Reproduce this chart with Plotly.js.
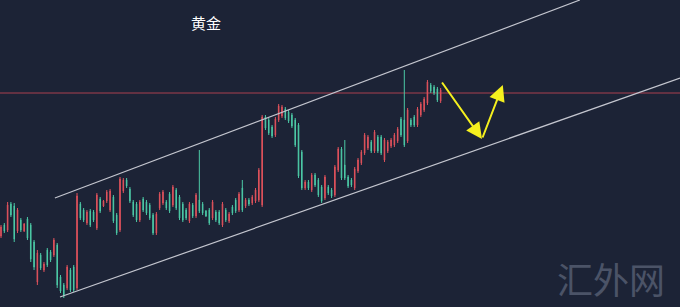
<!DOCTYPE html>
<html>
<head>
<meta charset="utf-8">
<script src="https://cdn.plot.ly/plotly-3.0.1.min.js"></script>
<style>
html,body{margin:0;padding:0;background:#1c2336;}
#chart{width:680px;height:307px;}
</style>
</head>
<body>
<div id="chart"></div>
<script>
// Gold (黄金) candles
const openP = [1764,1775,1770,1796,1794,1769,1780,1769,1781,1775,1758,1718,1745,1730,1750,1748,1745,1755,1723,1715,1712,1730,1733,1712,
1796,1790,1777,1789,1788,1772,1801,1794,1799,1790,1803,1785,1770,1809,1820,1811,1798,1796,1780,1801,1798,1795,1785,
1767,1792,1797,1798,1806,1795,1810,1803,1796,1790,1779,1795,1784,1800,1796,1789,1790,1782,1788,1788,1775,1790,1779,
1793,1800,1790,1812,1794,1800,1797,1799,1800,1795,1883,1880,1873,1865,1880,1884,1891,1888,1885,1880,1875,1848,
1812,1818,1810,1825,1820,1813,1802,1813,1810,1805,1830,1851,1835,1823,1820,1812,1829,1837,1847,1852,1858,1849,
1863,1863,1840,1849,1854,1855,1859,1881,1880,1859,1880,1883,1875,1885,1890,1897,1915,1913,1911,1899];
const highP = [1775,1777,1798,1798,1797,1792,1782,1777,1783,1777,1760,1750,1747,1738,1752,1750,1762,1757,1725,1717,1735,1732,1735,1807,
1798,1792,1790,1791,1790,1807,1803,1800,1810,1811,1805,1787,1823,1822,1822,1813,1800,1798,1800,1803,1800,1797,1787,
1788,1808,1810,1800,1808,1815,1812,1805,1798,1792,1798,1797,1807,1850,1798,1790,1792,1800,1790,1790,1798,1792,1788,
1795,1802,1808,1820,1802,1802,1805,1812,1832,1885,1885,1882,1875,1883,1896,1895,1893,1890,1887,1882,1877,1850,
1820,1820,1827,1827,1822,1815,1825,1815,1812,1835,1853,1853,1860,1825,1822,1833,1842,1850,1867,1865,1860,1870,
1865,1865,1862,1860,1862,1867,1873,1883,1930,1892,1882,1885,1893,1898,1903,1920,1917,1915,1913,1912];
const lowP = [1762,1767,1768,1783,1758,1767,1768,1768,1760,1738,1730,1715,1730,1728,1733,1738,1743,1712,1707,1702,1710,1708,1708,1710,
1780,1778,1775,1773,1778,1770,1787,1793,1797,1788,1777,1765,1768,1807,1812,1797,1783,1778,1778,1788,1785,1780,1765,
1765,1790,1795,1790,1787,1793,1790,1780,1778,1780,1777,1782,1782,1787,1785,1783,1775,1780,1778,1775,1773,1778,1777,
1785,1787,1788,1788,1792,1794,1795,1797,1798,1793,1870,1865,1862,1863,1878,1882,1880,1877,1872,1853,1822,1810,
1810,1810,1808,1813,1803,1797,1800,1805,1802,1803,1828,1820,1820,1812,1813,1810,1827,1835,1845,1850,1847,1847,
1847,1845,1838,1847,1852,1853,1857,1863,1853,1857,1873,1873,1873,1883,1888,1895,1907,1905,1898,1897];
const closeP = [1773,1769,1795,1785,1761,1790,1770,1776,1762,1741,1733,1747,1732,1736,1735,1740,1760,1715,1709,1704,1733,1710,1710,1804,
1782,1780,1788,1775,1780,1805,1789,1799,1808,1809,1779,1767,1821,1820,1814,1799,1785,1780,1798,1790,1787,1782,1767,
1786,1806,1808,1792,1789,1813,1792,1782,1780,1782,1796,1784,1805,1789,1787,1784,1777,1798,1780,1777,1796,1780,1786,
1787,1789,1806,1790,1800,1796,1803,1810,1830,1883,1872,1867,1864,1881,1894,1893,1882,1879,1874,1855,1824,1812,
1818,1812,1825,1815,1805,1799,1823,1807,1804,1833,1851,1822,1822,1814,1815,1831,1840,1848,1865,1863,1849,1868,
1849,1847,1860,1858,1860,1865,1871,1865,1855,1890,1875,1875,1891,1896,1901,1918,1909,1907,1900,1910];
const idx = openP.map((_, i) => i + 1);

// Drawn guides (price units / candle index)
const upperChannel = {x: [17.3, 176.1], y: [1802, 2000]};
const lowerChannel = {x: [18.85, 206.4], y: [1703, 1922]};
const resistance = 1907;
const arrowDown = {from: [134.1, 1919], to: [146.5, 1861]};
const arrowUp = {from: [146.5, 1861], to: [152.8, 1915]};
const titleText = '黄金';
const watermark = '汇外网';

const RED = '#e0525c';
const TEAL = '#4cc9a6';

const trace = {
  type: 'candlestick',
  x: idx, open: openP, high: highP, low: lowP, close: closeP,
  increasing: {line: {color: RED, width: 1}, fillcolor: RED},
  decreasing: {line: {color: TEAL, width: 1}, fillcolor: TEAL},
  whiskerwidth: 0,
  hoverinfo: 'skip',
  showlegend: false
};

const layout = {
  width: 680, height: 307,
  margin: {l: 0, r: 0, t: 0, b: 0, pad: 0},
  paper_bgcolor: '#1c2336',
  plot_bgcolor: '#1c2336',
  boxgap: 0.75,
  showlegend: false,
  title: {
    text: titleText,
    font: {family: 'Noto Sans CJK SC', size: 15, color: '#ffffff'},
    x: 206 / 680, xanchor: 'center', xref: 'container',
    y: 1 - 24 / 307, yanchor: 'middle', yref: 'container'
  },
  xaxis: {range: [0.6975, 206.4], visible: false, showgrid: false, zeroline: false,
          rangeslider: {visible: false}, fixedrange: true},
  yaxis: {range: [1693, 2000], visible: false, showgrid: false, zeroline: false, fixedrange: true},
  shapes: [
    {type: 'line', xref: 'paper', yref: 'y', x0: 0, x1: 1, y0: resistance, y1: resistance,
     line: {color: '#a9404f', width: 1}, layer: 'below'},
    {type: 'line', xref: 'x', yref: 'y', x0: upperChannel.x[0], x1: upperChannel.x[1],
     y0: upperChannel.y[0], y1: upperChannel.y[1], line: {color: '#c4c6cf', width: 1.2}},
    {type: 'line', xref: 'x', yref: 'y', x0: lowerChannel.x[0], x1: lowerChannel.x[1],
     y0: lowerChannel.y[0], y1: lowerChannel.y[1], line: {color: '#c4c6cf', width: 1.2}}
  ],
  annotations: [
    {x: arrowDown.to[0], y: arrowDown.to[1], ax: arrowDown.from[0], ay: arrowDown.from[1],
     xref: 'x', yref: 'y', axref: 'x', ayref: 'y', text: '', showarrow: true,
     arrowhead: 2, arrowsize: 1.6, arrowwidth: 2, arrowcolor: '#f5f01e'},
    {x: arrowUp.to[0], y: arrowUp.to[1], ax: arrowUp.from[0], ay: arrowUp.from[1],
     xref: 'x', yref: 'y', axref: 'x', ayref: 'y', text: '', showarrow: true,
     arrowhead: 2, arrowsize: 1.6, arrowwidth: 2, arrowcolor: '#f5f01e'},
    {x: 611 / 680, y: 1 - 278 / 307, xref: 'paper', yref: 'paper', text: watermark,
     showarrow: false, xanchor: 'center', yanchor: 'middle',
     font: {family: 'Noto Sans CJK SC', size: 36, color: '#4b5367'}}
  ]
};

Plotly.newPlot('chart', [trace], layout, {displayModeBar: false, staticPlot: true});
</script>
</body>
</html>
